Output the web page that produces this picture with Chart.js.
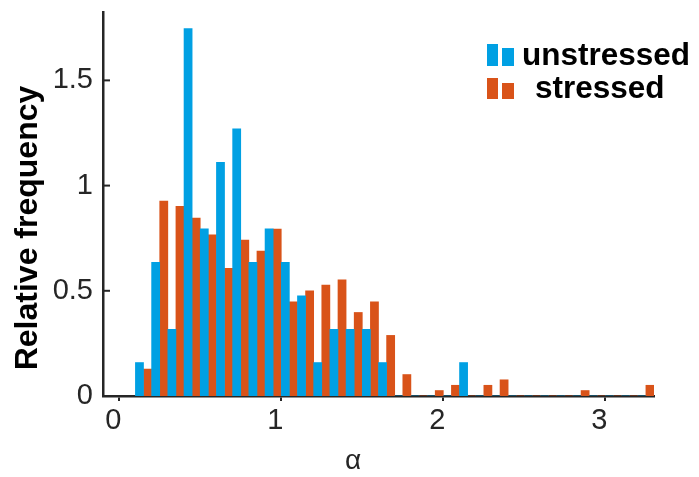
<!DOCTYPE html>
<html>
<head>
<meta charset="utf-8">
<script src="https://cdn.jsdelivr.net/npm/chart.js@4.4.1/dist/chart.umd.min.js"></script>
<style>
html, body { margin: 0; padding: 0; background: #fff; }
</style>
</head>
<body>
<canvas id="histChart" width="699" height="477"></canvas>
<script>
// bin centres (bin width 0.1)
const binCenters = [0.15, 0.25, 0.35, 0.45, 0.55, 0.65, 0.75, 0.85, 0.95, 1.05,
                    1.15, 1.25, 1.35, 1.45, 1.55, 1.65, 1.75, 1.85, 1.95, 2.05,
                    2.15, 2.25, 2.35, 2.45, 2.55, 2.65, 2.75, 2.85, 2.95, 3.05,
                    3.15, 3.25];
const unstressed = [0.159, 0.635, 0.317, 1.746, 0.794, 1.111, 1.270, 0.635, 0.794, 0.635,
                    0.476, 0.159, 0.317, 0.317, 0.317, 0.159, 0, 0, 0, 0,
                    0.159, 0, 0, 0, 0, 0, 0, 0, 0, 0,
                    0, 0];
const stressed = [0.128, 0.926, 0.901, 0.846, 0.766, 0.607, 0.741, 0.689, 0.793, 0.448,
                  0.500, 0.527, 0.552, 0.397, 0.448, 0.288, 0.102, 0, 0.026, 0.051,
                  0, 0.051, 0.077, 0, 0, 0, 0, 0.026, 0, 0,
                  0, 0.051];
const xTicks = [0, 1, 2, 3];
const yTicks = [0, 0.5, 1, 1.5];

const blue = '#00A0E3';
const orange = '#D95319';
const axisColor = '#262626';

const decor = {
    id: 'decor',
    afterDraw(chart) {
        const ctx = chart.ctx;
        const xs = chart.scales.x, ys = chart.scales.y;
        ctx.save();
        // y ticks point inwards
        ctx.strokeStyle = axisColor;
        ctx.lineWidth = 2;
        yTicks.forEach(v => {
            const py = ys.getPixelForValue(v);
            ctx.beginPath();
            ctx.moveTo(xs.left, py);
            ctx.lineTo(xs.left + 7, py);
            ctx.stroke();
        });
        // axis titles
        ctx.fillStyle = '#000';
        ctx.textAlign = 'center';
        ctx.textBaseline = 'middle';
        ctx.font = 'bold 32px "Liberation Sans", Arial, sans-serif';
        ctx.save();
        ctx.translate(28, 228);
        ctx.rotate(-Math.PI / 2);
        ctx.fillText('Relative frequency', 0, 0);
        ctx.restore();
        ctx.fillStyle = axisColor;
        ctx.font = '28px "Liberation Sans", Arial, sans-serif';
        ctx.fillText('α', 353, 461);
        // legend
        const ds = chart.data.datasets;
        ctx.fillStyle = ds[0].backgroundColor;
        ctx.fillRect(487, 44, 11, 22);
        ctx.fillRect(502, 48, 12, 18);
        ctx.fillStyle = ds[1].backgroundColor;
        ctx.fillRect(487, 78, 11, 21);
        ctx.fillRect(502, 83, 12, 16);
        ctx.fillStyle = '#000';
        ctx.textAlign = 'left';
        ctx.font = 'bold 31.5px "Liberation Sans", Arial, sans-serif';
        ctx.fillText(ds[0].label, 522, 56);
        ctx.fillText(ds[1].label, 535, 89);
        ctx.restore();
    }
};

const ctx = document.getElementById('histChart').getContext('2d');
new Chart(ctx, {
    type: 'bar',
    data: {
        datasets: [
            {
                label: 'unstressed',
                data: binCenters.map((b, i) => ({ x: b, y: unstressed[i] })),
                backgroundColor: blue,
                borderWidth: 0
            },
            {
                label: 'stressed',
                data: binCenters.map((b, i) => ({ x: b, y: stressed[i] })),
                backgroundColor: orange,
                borderWidth: 0
            }
        ]
    },
    options: {
        responsive: false,
        animation: false,
        devicePixelRatio: 1,
        categoryPercentage: 1.0,
        barPercentage: 1.0,
        layout: { padding: { top: 12, right: 45, left: 0, bottom: 0 } },
        plugins: {
            legend: { display: false },
            tooltip: { enabled: false }
        },
        scales: {
            x: {
                type: 'linear',
                min: -0.1,
                max: 3.3,
                offset: false,
                afterBuildTicks: s => { s.ticks = xTicks.map(v => ({ value: v })); },
                afterFit: s => { s.height = 81; s.paddingLeft = 0; s.paddingRight = 0; },
                grid: { display: true, offset: false, drawOnChartArea: false, drawTicks: true, tickLength: 5, color: axisColor, lineWidth: 2 },
                border: { display: true, color: axisColor, width: 2.5 },
                ticks: {
                    color: axisColor,
                    font: { family: '"Liberation Sans", Arial, sans-serif', size: 29 },
                    padding: 3,
                    labelOffset: -6,
                    maxRotation: 0,
                    callback: v => String(v)
                }
            },
            y: {
                min: 0,
                max: 1.825,
                afterBuildTicks: s => { s.ticks = yTicks.map(v => ({ value: v })); },
                afterFit: s => { s.width = 103; s.paddingTop = 0; s.paddingBottom = 0; },
                grid: { display: false, drawTicks: false },
                border: { display: true, color: axisColor, width: 2.5 },
                ticks: {
                    color: axisColor,
                    font: { family: '"Liberation Sans", Arial, sans-serif', size: 29 },
                    padding: 10,
                    callback: v => String(v)
                }
            }
        }
    },
    plugins: [decor]
});
</script>
</body>
</html>
